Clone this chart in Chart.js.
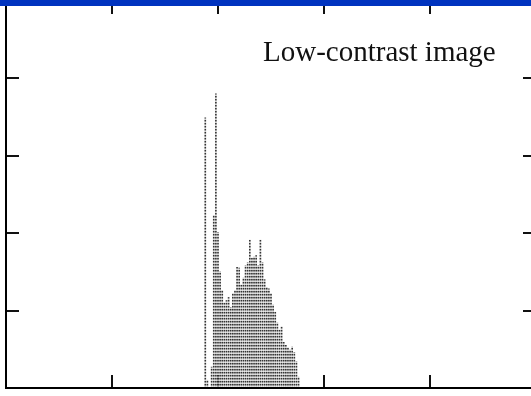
<!DOCTYPE html>
<html>
<head>
<meta charset="utf-8">
<title>Histogram</title>
<script src="https://cdn.jsdelivr.net/npm/chart.js@4.4.1/dist/chart.umd.min.js"></script>
<style>
  html, body { margin: 0; padding: 0; background: #fff; overflow: hidden; }
  #wrap { position: relative; width: 531px; height: 396px; overflow: hidden; }
  #histChart { position: absolute; left: 0; top: 0; }
  #topbar { position: absolute; left: 0; top: 0; width: 531px; height: 6px; background: #0033bf; }
  #caption {
    position: absolute; left: 263px; top: 35px;
    font-family: "Liberation Serif", "DejaVu Serif", serif;
    font-size: 29px; color: #111; white-space: nowrap;
  }
</style>
</head>
<body>
<div id="wrap">
  <canvas id="histChart" width="542" height="396"></canvas>
  <div id="topbar"></div>
  <div id="caption">Low-contrast image</div>
</div>
<script>
// gray levels that occur in the image and how many pixels have each
const grayLevels = [94, 95, 96, 97, 98, 99, 100, 101, 102, 103, 104, 105, 106, 107, 108, 109, 110,
  111, 112, 113, 114, 115, 116, 117, 118, 119, 120, 121, 122, 123, 124, 125, 126, 127, 128,
  129, 130, 131, 132, 133, 134, 135, 136, 137, 138];
const pixelCounts = [1745, 50, 0, 135, 1115, 1900, 1005, 750, 630, 550, 565, 585, 520, 610, 630, 780, 775,
  665, 710, 790, 810, 955, 840, 845, 855, 790, 955, 810, 700, 650, 640, 610, 535, 490, 420,
  375, 395, 295, 275, 260, 245, 265, 230, 170, 70];

// axis tick positions (marks only, no labels)
const xTicks = [50, 100, 150, 200];
const yTicks = [500, 1000, 1500, 2000];

const ctx = document.getElementById('histChart').getContext('2d');

// dotted, printed-looking fill for the thin bars
function dotPattern() {
    const c = document.createElement('canvas');
    c.width = 1; c.height = 3;
    const p = c.getContext('2d');
    p.fillStyle = '#333'; p.fillRect(0, 0, 1, 1);
    p.fillStyle = '#888'; p.fillRect(0, 1, 1, 1);
    p.fillStyle = '#d0d0d0'; p.fillRect(0, 2, 1, 1);
    return ctx.createPattern(c, 'repeat');
}

// box frame with inward tick marks
const framePlugin = {
    id: 'frame',
    beforeDatasetsDraw(chart) {
        const { ctx, chartArea: a, scales: { x, y } } = chart;
        ctx.save();
        ctx.strokeStyle = '#111';
        ctx.lineWidth = 2;
        ctx.beginPath();
        xTicks.forEach(v => {
            const px = Math.round(x.getPixelForValue(v));
            ctx.moveTo(px, a.bottom); ctx.lineTo(px, a.bottom - 13);
            ctx.moveTo(px, a.top); ctx.lineTo(px, a.top + 13);
        });
        yTicks.forEach(v => {
            const py = Math.round(y.getPixelForValue(v));
            ctx.moveTo(a.left, py); ctx.lineTo(a.left + 13, py);
            ctx.moveTo(a.right, py); ctx.lineTo(a.right - 13, py);
        });
        ctx.stroke();
        ctx.restore();
    },
    afterDatasetsDraw(chart) {
        const { ctx, chartArea: a } = chart;
        ctx.save();
        ctx.strokeStyle = '#000';
        ctx.lineWidth = 2;
        ctx.strokeRect(a.left, a.top, a.right - a.left, a.bottom - a.top);
        ctx.restore();
    }
};

new Chart(ctx, {
    type: 'bar',
    data: {
        datasets: [{
            data: grayLevels.map((g, i) => ({ x: g, y: pixelCounts[i] })),
            backgroundColor: dotPattern(),
            borderWidth: 0,
            barThickness: 1
        }]
    },
    options: {
        responsive: false,
        animation: false,
        layout: { padding: { left: 6, right: 6, top: 1, bottom: 8 } },
        plugins: { legend: { display: false }, tooltip: { enabled: false } },
        scales: {
            x: { type: 'linear', min: 0, max: 250, display: false, offset: false },
            y: { min: 0, max: 2500, display: false }
        }
    },
    plugins: [framePlugin]
});
</script>
</body>
</html>
